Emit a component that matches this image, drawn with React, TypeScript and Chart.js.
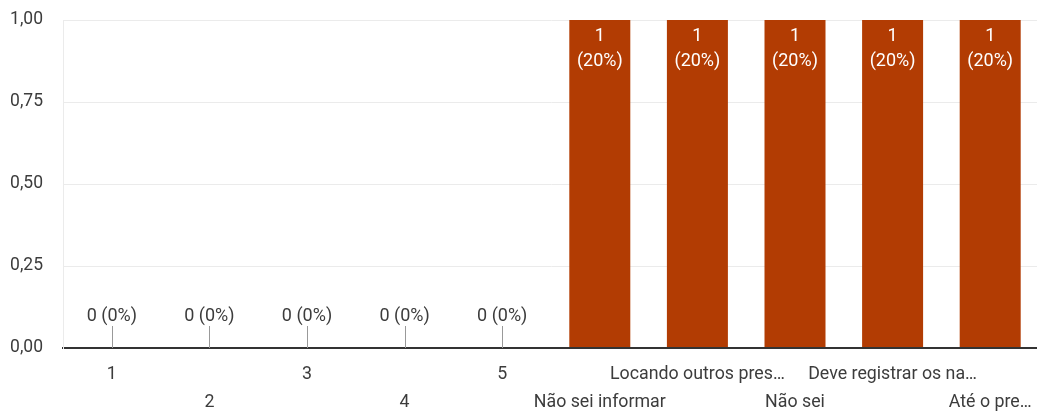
import React, { useEffect, useRef } from "react";
import { Chart, registerables } from "chart.js";

Chart.register(...registerables);

const categories: string[] = [
  "1",
  "2",
  "3",
  "4",
  "5",
  "Não sei informar",
  "Locando outros pres…",
  "Não sei",
  "Deve registrar os na…",
  "Até o pre…",
];
const counts: number[] = [0, 0, 0, 0, 0, 1, 1, 1, 1, 1];
const yTicks: number[] = [0, 0.25, 0.5, 0.75, 1];

const FONT = "Roboto, 'Liberation Sans', sans-serif";
const BAR = "#b23c03";
const TEXT = "#3c3c3c";

const labelsPlugin = {
  id: "valueLabels",
  afterDatasetsDraw(chart: any) {
    const ctx = chart.ctx;
    const meta = chart.getDatasetMeta(0);
    const yScale = chart.scales.y;
    const data = chart.data.datasets[0].data as number[];
    const total = data.reduce((a, b) => a + b, 0);
    ctx.save();
    ctx.font = `18px ${FONT}`;
    ctx.textAlign = "center";
    ctx.textBaseline = "middle";
    meta.data.forEach((bar: any, i: number) => {
      const v = data[i];
      const pct = total ? Math.round((v / total) * 100) : 0;
      const base = yScale.getPixelForValue(0);
      if (v === 0) {
        ctx.strokeStyle = "#999999";
        ctx.lineWidth = 1;
        ctx.beginPath();
        ctx.moveTo(Math.round(bar.x) + 0.5, base);
        ctx.lineTo(Math.round(bar.x) + 0.5, base - 22);
        ctx.stroke();
        ctx.fillStyle = TEXT;
        ctx.fillText(`${v} (${pct}%)`, bar.x, base - 32);
      } else {
        ctx.fillStyle = "#ffffff";
        ctx.fillText(`${v}`, bar.x, bar.y + 16);
        ctx.fillText(`(${pct}%)`, bar.x, bar.y + 41);
      }
    });
    ctx.restore();
  },
};

export default function App() {
  const ref = useRef<HTMLCanvasElement | null>(null);
  useEffect(() => {
    if (!ref.current) return;
    const chart = new Chart(ref.current, {
      type: "bar",
      data: {
        labels: categories.map((c, i) => (i % 2 === 0 ? [c] : ["", c])),
        datasets: [
          {
            data: counts,
            backgroundColor: BAR,
            barPercentage: 0.625,
            categoryPercentage: 1,
          },
        ],
      },
      options: {
        animation: false,
        responsive: false,
        maintainAspectRatio: false,
        layout: { padding: { top: 20, right: 1, left: 0, bottom: 0 } },
        plugins: { legend: { display: false }, tooltip: { enabled: false } },
        scales: {
          x: {
            grid: { display: false, drawTicks: false },
            border: { display: true, color: "#333333", width: 2 },
            ticks: {
              autoSkip: false,
              maxRotation: 0,
              padding: 13,
              color: TEXT,
              font: { family: FONT, size: 17.8, lineHeight: "28px" },
            },
            afterFit: (s: any) => {
              s.height = 69;
              s.paddingLeft = 0;
              s.paddingRight = 0;
            },
          },
          y: {
            min: 0,
            max: 1,
            afterBuildTicks: (s: any) => {
              s.ticks = yTicks.map((v) => ({ value: v }));
            },
            grid: {
              drawTicks: false,
              color: (c: any) => (c.tick && c.tick.value === 0 ? "#333333" : "#ebebeb"),
              lineWidth: (c: any) => (c.tick && c.tick.value === 0 ? 2 : 1),
            },
            border: { display: true, color: "#ebebeb", width: 1 },
            ticks: {
              padding: 20,
              color: TEXT,
              font: { family: FONT, size: 17.5 },
              callback: (v: any) => Number(v).toFixed(2).replace(".", ","),
            },
            afterFit: (s: any) => {
              s.width = 63;
              s.paddingTop = 0;
              s.paddingBottom = 0;
            },
          },
        },
      },
      plugins: [labelsPlugin],
    });
    return () => chart.destroy();
  }, []);
  return (
    <div
      style={{
        position: "absolute",
        left: 0,
        top: 0,
        width: 1037,
        height: 417,
        overflow: "hidden",
        background: "#fff",
      }}
    >
      <canvas ref={ref} width={1040} height={417} />
    </div>
  );
}
